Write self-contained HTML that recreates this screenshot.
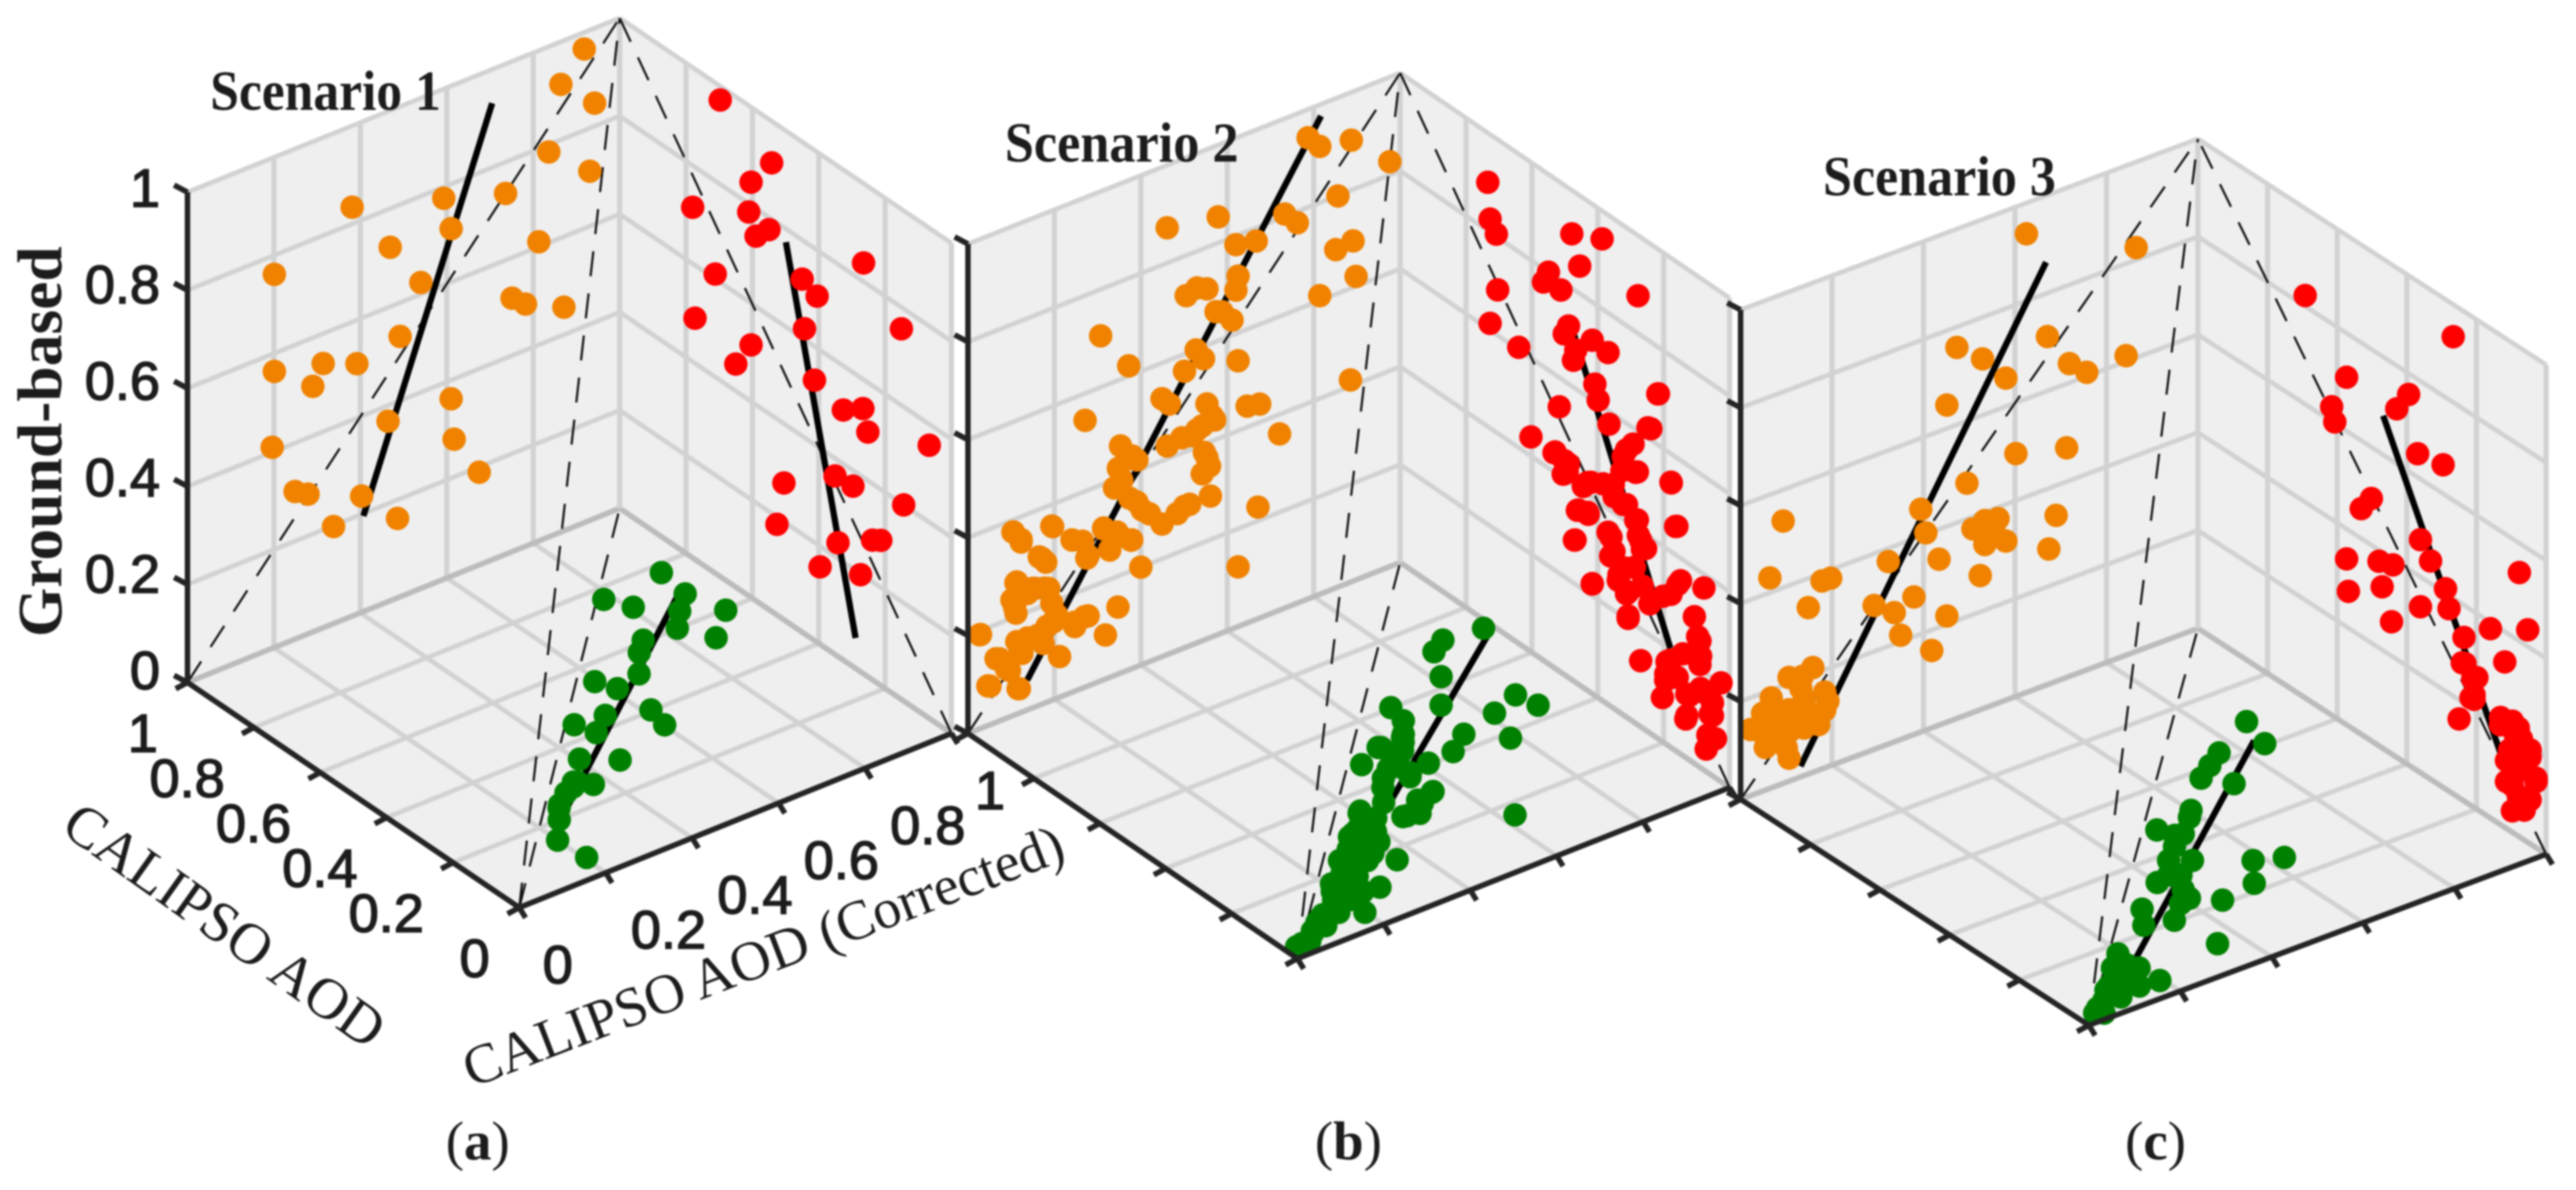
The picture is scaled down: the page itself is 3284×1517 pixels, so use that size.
<!DOCTYPE html>
<html lang="en">
<head>
<meta charset="utf-8">
<title>Ground-based vs CALIPSO AOD scenarios</title>
<style>
html,body{margin:0;padding:0;background:#fff;}
body{width:3284px;height:1517px;overflow:hidden;}
svg{display:block;filter:blur(1.1px);}
text{fill:#1c1c1c;}
.serif{font-family:"Liberation Serif",serif;}
.sans{font-family:"Liberation Sans",sans-serif;}
</style>
</head>
<body>
<svg id="chart" xmlns="http://www.w3.org/2000/svg" width="3284" height="1517" viewBox="0 0 3284 1517">
  <g id="panels"></g>
  <g id="labels"></g>
  <text class="serif" font-weight="bold" font-size="81" text-anchor="middle" transform="translate(78,563) rotate(-90)">Ground-based</text>
  <text class="serif" font-size="74" text-anchor="middle" dominant-baseline="central" transform="translate(286,1180) rotate(35.4)">CALIPSO AOD</text>
  <text class="serif" font-size="71.5" text-anchor="middle" dominant-baseline="central" transform="translate(973,1219) rotate(-21)">CALIPSO AOD (Corrected)</text>
  <text class="serif" font-weight="bold" font-size="72" x="268" y="140" textLength="294" lengthAdjust="spacingAndGlyphs">Scenario 1</text>
  <text class="serif" font-weight="bold" font-size="72" x="1281" y="206" textLength="298" lengthAdjust="spacingAndGlyphs">Scenario 2</text>
  <text class="serif" font-weight="bold" font-size="72" x="2324" y="249" textLength="297" lengthAdjust="spacingAndGlyphs">Scenario 3</text>
  <text class="serif" font-size="70" x="609" y="1478" text-anchor="middle">(<tspan font-weight="bold">a</tspan>)</text>
  <text class="serif" font-size="70" x="1719" y="1478" text-anchor="middle">(<tspan font-weight="bold">b</tspan>)</text>
  <text class="serif" font-size="70" x="2748" y="1478" text-anchor="middle">(<tspan font-weight="bold">c</tspan>)</text>
</svg>
<script>
const gridTicks = [0, 0.2, 0.4, 0.6, 0.8, 1];
const zTickLabels = ['0', '0.2', '0.4', '0.6', '0.8', '1'];
const xTickLabels = ['0', '0.2', '0.4', '0.6', '0.8', '1'];
const yTickLabels = ['0', '0.2', '0.4', '0.6', '0.8', '1'];

const aOrangeY = [.918,.864,.942,.836,.931,.381,.593,.736,.610,.469,.813,.201,.540,.751,.782,.871,.492,.201,.314,.392,.290,.610,.464,.617,.196,.675,.249,.279,.403,.486,.338];
const aOrangeZ = [.966,.913,.847,.785,.712,.834,.777,.736,.709,.721,.610,.761,.624,.517,.494,.456,.531,.563,.539,.511,.501,.362,.368,.277,.410,.189,.301,.285,.237,.162,.198];
const aRedX = [.697,.542,.604,.780,.611,.550,.589,.265,.712,.450,.405,.773,.443,.151,.604,.650,.413,.326,.267,.252,.067,.505,.351,.297,.144,.526,.342,.238,.213,.396,.274];
const aRedZ = [.972,.915,.847,.715,.783,.775,.744,.838,.610,.720,.706,.492,.622,.756,.515,.455,.531,.510,.540,.499,.557,.279,.364,.368,.400,.185,.232,.285,.296,.158,.198];
const aGreenX = [.774,.764,.709,.688,.597,.646,.601,.531,.606,.576,.517,.545,.500,.403,.346,.439,.448,.401,.346,.298,.284,.260,.267,.241,.200,.145,.064,.289,.276,.233];
const aGreenY = [.923,.782,.808,.912,.936,.867,.827,.863,.752,.720,.674,.593,.611,.614,.602,.536,.471,.486,.405,.462,.353,.371,.313,.278,.246,.200,.205,.347,.337,.271];
const aFitOrangeY = [.705,.407];
const aFitOrangeZ = [.931,.195];
const aFitRedX = [.499,.289];
const aFitRedZ = [.773,.062];
const aFitGreenX = [.699,.186];
const aFitGreenY = [.907,.232];

const bOrangeY = [.787,.814,.887,.976,.856,.733,.762,.461,.579,.620,.667,.891,.851,.898,.814,.625,.620,.505,.553,.574,.611,.307,.372,.625,.528,.545,.501,.885,.449,.466,.553,.646,.675,.571,.542,.519,.721,.271,.461,.353,.380,.553,.348,.542,.339,.374,.561,.513,.671,.403,.484,.449,.194,.104,.123,.314,.345,.377,.241,.328,.275,.171,.400,.625,.113,.102,.150,.177,.347,.194,.108,.137,.270,.247,.027,.318,.160,.113,.212,.073,.096,.046,.119,.125,.183,.105,.123,.196,.165,.180,.241,.265,.314,.350,.379,.328,.278,.111,.156,.187,.102,.111,.205,.247,.278,.029,.162,.116,.138,.174,.065,.120,.089,.051,.116,.198,.565,.530,.547,.559,.495,.391,.356,.391,.420,.501,.588,.530];
const bOrangeZ = [.942,.915,.902,.827,.799,.805,.777,.872,.853,.782,.773,.695,.691,.620,.610,.716,.689,.718,.715,.661,.631,.705,.621,.543,.599,.575,.565,.413,.527,.510,.480,.443,.437,.441,.439,.427,.360,.545,.426,.464,.434,.370,.420,.341,.383,.350,.289,.289,.228,.316,.280,.271,.356,.375,.348,.310,.291,.263,.311,.260,.262,.298,.200,.122,.270,.237,.244,.235,.137,.198,.220,.238,.144,.132,.192,.090,.139,.148,.083,.127,.095,.081,.050,.120,.155,.375,.353,.354,.303,.287,.311,.300,.308,.282,.263,.261,.266,.269,.242,.231,.237,.207,.171,.141,.143,.192,.144,.144,.147,.123,.130,.122,.101,.079,.051,.159,.451,.435,.383,.351,.431,.422,.393,.336,.302,.289,.656,.725];
const bRedX = [.734,.727,.708,.479,.387,.455,.550,.565,.512,.704,.278,.727,.489,.502,.417,.369,.467,.474,.640,.218,.409,.399,.517,.366,.248,.603,.293,.530,.323,.489,.285,.505,.177,.421,.444,.353,.323,.459,.429,.285,.160,.471,.369,.270,.361,.255,.417,.316,.338,.308,.157,.202,.308,.216,.239,.178,.164,.149,.178,.078,.107,.097,.088,.178,.194,.026,.088,.204,.123,.052,.133,.052,.043,.071,.270,.308,.159,.187,.142,.533,.502,.493,.431,.384,.327,.280,.313,.351,.313,.462,.431,.280,.277,.360,.265,.351,.469,.336,.289,.313,.265,.242,.417,.090,.090,.190,.194,.130,.076,.130,.059,.066];
const bRedZ = [.899,.827,.805,.911,.943,.856,.800,.773,.781,.693,.877,.614,.718,.696,.722,.719,.679,.655,.605,.704,.636,.608,.540,.574,.621,.439,.567,.442,.528,.436,.513,.408,.541,.430,.411,.457,.430,.356,.361,.415,.460,.289,.352,.381,.307,.371,.225,.303,.268,.258,.343,.298,.209,.705,.623,.542,.458,.354,.313,.372,.300,.264,.228,.179,.143,.202,.162,.090,.131,.149,.079,.123,.080,.046,.135,.204,.152,.163,.208,.439,.437,.417,.425,.444,.497,.516,.546,.433,.434,.354,.364,.418,.388,.346,.365,.321,.290,.280,.317,.252,.290,.264,.224,.258,.210,.170,.130,.131,.159,.087,.123,.077];
const bGreenX = [.722,.734,.711,.633,.553,.602,.551,.499,.445,.471,.383,.446,.409,.504,.491,.474,.404,.433,.397,.319,.386,.276,.282,.162,.345,.289,.289,.167,.109,.055,.250,.193,.150,.095,.054,.032,.223,.129,.079,.117,.212,.318,.298,.444,.513,.123,.159,.080,.505,.468,.500,.427,.412,.386,.318,.312,.343,.280,.272,.340,.308,.297,.271,.284,.238,.240,.229,.198,.224,.172,.165,.173,.115,.125,.108,.089,.084,.061,.037,.061,.035,.034];
const bGreenY = [.981,.896,.858,.815,.754,.675,.665,.885,.896,.815,.785,.725,.672,.571,.619,.510,.611,.540,.564,.557,.492,.489,.459,.627,.408,.395,.349,.358,.274,.198,.308,.251,.195,.131,.076,.036,.303,.202,.130,.240,.336,.400,.516,.571,.636,.187,.249,.106,.628,.600,.575,.561,.513,.555,.554,.516,.461,.467,.491,.402,.416,.366,.387,.337,.370,.335,.272,.313,.297,.210,.264,.240,.239,.179,.202,.121,.160,.081,.039,.112,.055,.024];
const bFitOrangeY = [.817,.137];
const bFitOrangeZ = [.976,.061];
const bFitRedX = [.486,.180];
const bFitRedZ = [.732,.202];
const bFitGreenX = [.699,.172];
const bFitGreenY = [.974,.242];

const cOrangeY = [.625,.865,.671,.473,.529,.580,.719,.757,.843,.451,.713,.602,.495,.690,.394,.093,.534,.563,.508,.405,.554,.580,.534,.674,.434,.323,.064,.178,.197,.524,.148,.379,.292,.336,.451,.350,.418,.158,.135,.191,.067,.048,.139,.171,.035,.080,.106,.054,.106,.126,.087,.184,.106,.067,.158,.132,.106,.184,.022,.061,.139,.100];
const cOrangeZ = [.937,.825,.711,.758,.715,.658,.639,.608,.612,.648,.469,.496,.473,.339,.455,.536,.383,.377,.375,.403,.355,.325,.334,.276,.339,.373,.430,.384,.383,.274,.340,.281,.294,.264,.217,.213,.158,.214,.204,.134,.184,.159,.156,.093,.130,.103,.101,.087,.047,.131,.145,.155,.146,.137,.119,.180,.212,.118,.135,.124,.097,.070];
const cRedX = [.692,.267,.573,.395,.429,.616,.607,.369,.296,.502,.531,.361,.332,.573,.480,.440,.077,.568,.471,.289,.361,.279,.444,.160,.053,.236,.119,.241,.211,.207,.250,.131,.080,.216,.046,.105,.080,.029,.114,.046,.097,.071,.131,.088,.046,.114,.063,.097,.029,.080,.063,.097,.207,.199,.233];
const cRedZ = [.822,.934,.710,.757,.712,.630,.603,.648,.659,.495,.461,.476,.446,.339,.377,.388,.540,.275,.329,.409,.339,.373,.270,.387,.434,.334,.338,.280,.261,.230,.161,.219,.221,.220,.177,.165,.133,.135,.096,.090,.044,.203,.204,.202,.192,.139,.149,.096,.142,.082,.061,.227,.221,.269,.282];
const cGreenX = [.687,.606,.628,.602,.576,.526,.496,.477,.438,.354,.379,.290,.266,.225,.329,.251,.211,.270,.205,.223,.094,.170,.108,.051,.102,.054,.046,.028,.129,.325,.412,.478,.282,.136,.081,.133,.079,.089,.039,.057,.018,.443,.338,.245];
const cGreenY = [.868,.846,.763,.723,.684,.718,.601,.512,.540,.496,.463,.580,.630,.533,.400,.411,.453,.322,.343,.290,.353,.193,.192,.194,.136,.074,.105,.034,.182,.449,.501,.584,.421,.155,.099,.159,.144,.112,.049,.154,.047,.525,.432,.387];
const cFitOrangeY = [.668,.131];
const cFitOrangeZ = [.864,.022];
const cFitRedX = [.468,.092];
const cFitRedZ = [.680,.084];
const cFitGreenX = [.626,.140];
const cFitGreenY = [.838,.210];

const panels = [
  {id:'a', F:[662,1157], L:[239,870], R:[1213,935], H:625,
   orange:[aOrangeY,aOrangeZ], red:[aRedX,aRedZ], green:[aGreenX,aGreenY],
   fitO:[aFitOrangeY,aFitOrangeZ], fitR:[aFitRedX,aFitRedZ], fitG:[aFitGreenX,aFitGreenY]},
  {id:'b', F:[1654,1222], L:[1234,935], R:[2205,1004], H:624,
   orange:[bOrangeY,bOrangeZ], red:[bRedX,bRedZ], green:[bGreenX,bGreenY],
   fitO:[bFitOrangeY,bFitOrangeZ], fitR:[bFitRedX,bFitRedZ], fitG:[bFitGreenX,bFitGreenY]},
  {id:'c', F:[2663,1307], L:[2219,1019], R:[3246,1089], H:624,
   orange:[cOrangeY,cOrangeZ], red:[cRedX,cRedZ], green:[cGreenX,cGreenY],
   fitO:[cFitOrangeY,cFitOrangeZ], fitR:[cFitRedX,cFitRedZ], fitG:[cFitGreenX,cFitGreenY]}
];

const NS = 'http://www.w3.org/2000/svg';
const AXIS = '#242424', GRID = '#d2d2d2', EDGE = '#bcbcbc', WALL = '#efefef';

function makeProjector(p) {
  const ax = p.L[0] - p.F[0], ay = p.L[1] - p.F[1];
  const bx = p.R[0] - p.F[0], by = p.R[1] - p.F[1];
  return function (x, y, z) {
    return [p.F[0] + x * ax + y * bx, p.F[1] + x * ay + y * by - z * p.H];
  };
}
function addLine(parent, a, b, stroke, width, name, dash) {
  const el = document.createElementNS(NS, 'line');
  
  
  el.setAttribute('x1', a[0]); el.setAttribute('y1', a[1]);
  el.setAttribute('x2', b[0]); el.setAttribute('y2', b[1]);
  el.setAttribute('stroke', stroke);
  el.setAttribute('stroke-width', width);
  if (dash) el.setAttribute('stroke-dasharray', dash);
  parent.appendChild(el);
  return el;
}
function addWall(parent, pts, name) {
  const el = document.createElementNS(NS, 'polygon');
  
  
  el.setAttribute('points', pts.map(q => q.join(',')).join(' '));
  el.setAttribute('fill', WALL);
  parent.appendChild(el);
}
function addDot(parent, q, fill, name) {
  const el = document.createElementNS(NS, 'circle');
  
  
  el.setAttribute('cx', q[0]); el.setAttribute('cy', q[1]);
  el.setAttribute('r', 15);
  el.setAttribute('fill', fill);
  parent.appendChild(el);
}
function addLabel(parent, q, text, anchor, name) {
  const el = document.createElementNS(NS, 'text');
  
  
  el.setAttribute('class', 'sans');
  el.setAttribute('x', q[0]); el.setAttribute('y', q[1]);
  el.setAttribute('font-size', 69);
  el.setAttribute('text-anchor', anchor);
  el.setAttribute('dominant-baseline', 'central');
  el.setAttribute('stroke', '#1c1c1c');
  el.setAttribute('stroke-width', 1.8);
  el.textContent = text;
  parent.appendChild(el);
}

function drawPanel(p, root) {
  const P = makeProjector(p);
  const g = document.createElementNS(NS, 'g');
  
  
  root.appendChild(g);

  addWall(g, [P(0,0,0), P(1,0,0), P(1,1,0), P(0,1,0)], 'floor-wall');
  addWall(g, [P(1,0,0), P(1,1,0), P(1,1,1), P(1,0,1)], 'left-wall');
  addWall(g, [P(0,1,0), P(1,1,0), P(1,1,1), P(0,1,1)], 'right-wall');

  gridTicks.forEach(t => {
    const back = t === 1, w = back ? 7 : 6;
    addLine(g, P(t,0,0), P(t,1,0), back ? EDGE : GRID, w, 'floor-gridline');
    addLine(g, P(0,t,0), P(1,t,0), back ? EDGE : GRID, w, 'floor-gridline');
    if (t > 0) {
      addLine(g, P(1,0,t), P(1,1,t), GRID, 6, 'left-wall-gridline');
      addLine(g, P(0,1,t), P(1,1,t), GRID, 6, 'right-wall-gridline');
    }
    addLine(g, P(1,t,0), P(1,t,1), GRID, 6.5, 'left-wall-gridline');
    addLine(g, P(t,1,0), P(t,1,1), GRID, 6.5, 'right-wall-gridline');
  });

  const dash = '32 22';
  addLine(g, P(1,0,0), P(1,1,1), '#111', 2.8, 'orange-one-to-one-line', dash);
  addLine(g, P(0,1,0), P(1,1,1), '#111', 2.8, 'red-one-to-one-line', dash);
  addLine(g, P(0,0,0), P(1,1,1), '#111', 2.8, 'diagonal-one-to-one-line', dash);
  addLine(g, P(0,0,0), P(1,1,0), '#111', 2.8, 'green-one-to-one-line', dash);

  addLine(g, P(1,p.fitO[0][0],p.fitO[1][0]), P(1,p.fitO[0][1],p.fitO[1][1]), '#000', 8, 'orange-regression-line');
  addLine(g, P(p.fitR[0][0],1,p.fitR[1][0]), P(p.fitR[0][1],1,p.fitR[1][1]), '#000', 8, 'red-regression-line');
  addLine(g, P(p.fitG[0][0],p.fitG[1][0],0), P(p.fitG[0][1],p.fitG[1][1],0), '#000', 8, 'green-regression-line');

  p.orange[0].forEach((v, i) => addDot(g, P(1, v, p.orange[1][i]), '#f08200', 'orange-point'));
  p.red[0].forEach((v, i) => addDot(g, P(v, 1, p.red[1][i]), '#ff0000', 'red-point'));
  p.green[0].forEach((v, i) => addDot(g, P(v, p.green[1][i], 0), '#008000', 'green-point'));

  addLine(g, P(1,0,0), P(1,0,1), AXIS, 7, 'ground-based-axis');
  addLine(g, P(0,0,0), P(1,0,0), AXIS, 7, 'calipso-aod-axis');
  addLine(g, P(0,0,0), P(0,1,0), AXIS, 7, 'calipso-corrected-axis');
  gridTicks.forEach(t => {
    const a = P(1,0,t);
    addLine(g, a, [a[0]-17, a[1]-9], AXIS, 7, 'ground-based-tick');
    const b = P(t,0,0);
    addLine(g, b, [b[0]-15, b[1]+8], AXIS, 7, 'calipso-aod-tick');
    const c = P(0,t,0);
    addLine(g, c, [c[0]+8, c[1]+13], AXIS, 7, 'calipso-corrected-tick');
  });
}

panels.forEach(p => drawPanel(p, document.getElementById('panels')));

const labelLayer = document.getElementById('labels');
const P0 = makeProjector(panels[0]);
zTickLabels.forEach((s, i) => {
  const t = gridTicks[i], q = P0(1, 0, t);
  addLabel(labelLayer, [q[0] - 35, q[1] - 15 + 10 * t], s, 'end', 'ground-based-tick-label');
});
xTickLabels.forEach((s, i) => {
  const q = P0(gridTicks[i], 0, 0);
  addLabel(labelLayer, [q[0] + (s.length > 1 ? -85 : -57), q[1] + 65], s, 'middle', 'calipso-aod-tick-label');
});
yTickLabels.forEach((s, i) => {
  const q = P0(0, gridTicks[i], 0);
  addLabel(labelLayer, [q[0] + (s.length > 1 ? 80 : 49), q[1] + 73], s, 'middle', 'calipso-corrected-tick-label');
});
</script>
</body>
</html>
